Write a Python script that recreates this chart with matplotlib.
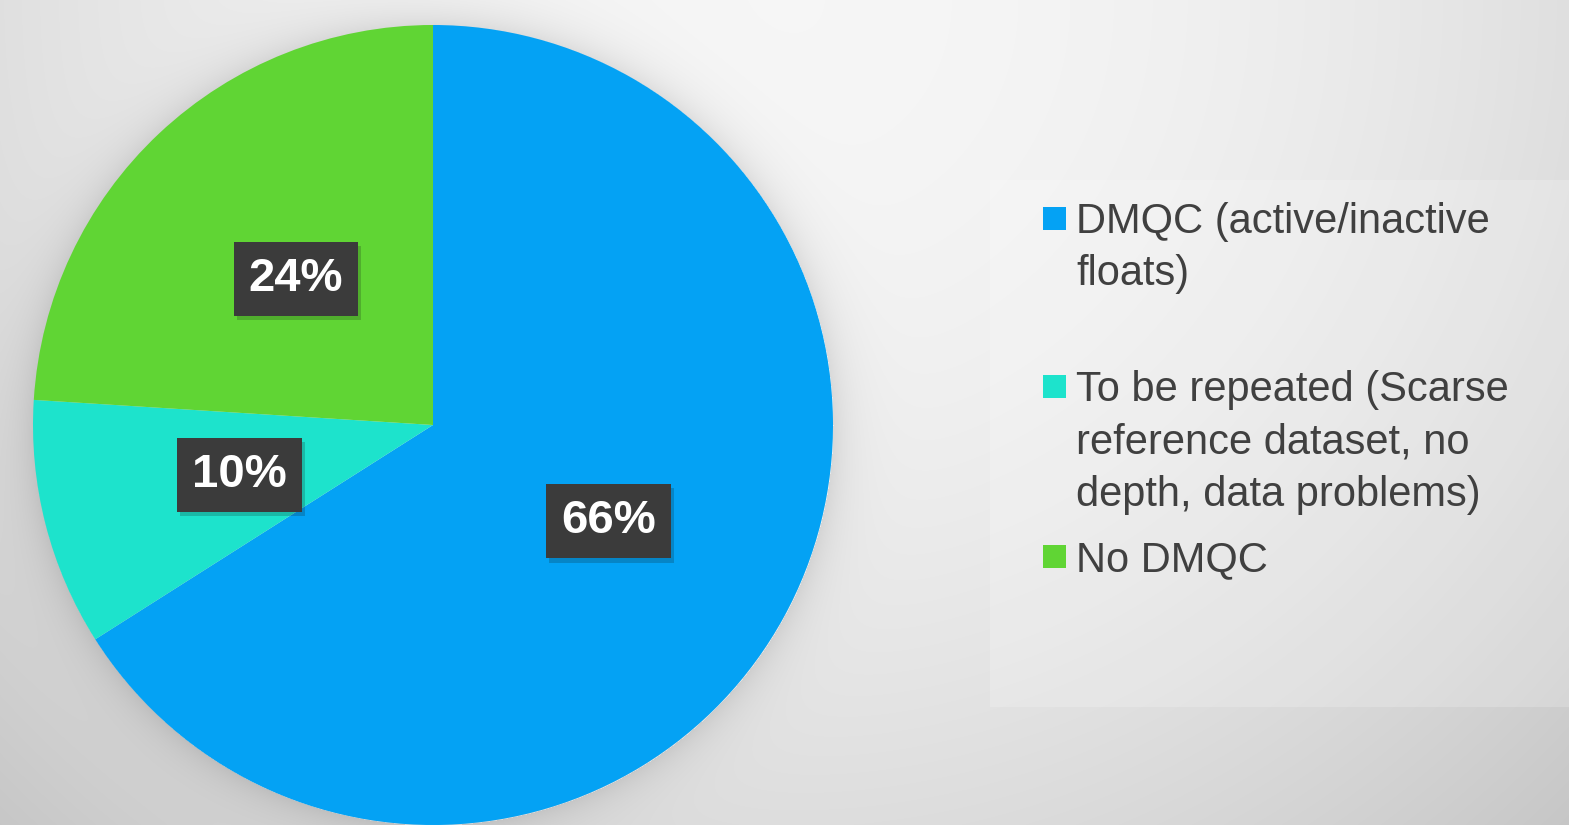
import matplotlib.pyplot as plt
import matplotlib.patheffects as pe
import numpy as np

# chart data
categories = ["DMQC (active/inactive\nfloats)",
              "To be repeated (Scarse\nreference dataset, no\ndepth, data problems)",
              "No DMQC"]
shares = [66, 10, 24]
colors = ["#04a2f4", "#1de3cc", "#60d534"]

W, H = 1569, 825
plt.rcParams['font.family'] = ['Liberation Sans', 'DejaVu Sans']

fig = plt.figure(figsize=(W / 100, H / 100), dpi=100)
ax = fig.add_axes([0, 0, 1, 1])

# grey radial background with a soft shadow round the pie
xx, yy = np.meshgrid(np.arange(W), np.arange(H))
d = np.hypot(xx - 780, yy + 0)
bg = 0.965 - 0.19 * (d / 1150) ** 2
pie_d = np.hypot(xx - 433, yy - 425)
shadow = np.where(pie_d > 400, 0.09 * np.exp(-(pie_d - 400) / 20), 0)
bg = np.clip(bg - shadow, 0, 1)
ax.imshow(np.dstack([bg, bg, bg]), extent=(0, W, 0, H), origin='upper',
          interpolation='bilinear', zorder=0)

# legend panel
ax.add_patch(plt.Rectangle((990, H - 707), 600, 527, facecolor='white',
                           alpha=0.2, edgecolor='none', zorder=1))

wedges, texts, autotexts = ax.pie(
    shares, colors=colors, startangle=90, counterclock=False,
    center=(433, H - 425), radius=400, frame=True,
    autopct=lambda p: f"{p:.0f}%", pctdistance=0.5,
    wedgeprops=dict(edgecolor='none', zorder=2))

for t in autotexts:
    t.set_color('white')
    t.set_fontsize(34)
    t.set_fontweight('bold')
    t.set_zorder(5)
    t.set_bbox(dict(boxstyle='square,pad=0.32', facecolor='#3b3b3b',
                    edgecolor='none',
                    path_effects=[pe.withSimplePatchShadow(offset=(2, -3),
                                                           alpha=0.2)]))

# legend entries placed by hand (Excel spreads them unevenly)
entry_y = [218, 386, 556]
for lab, col, y in zip(categories, colors, entry_y):
    ax.add_patch(plt.Rectangle((1043, H - y - 11.5), 23, 23,
                               facecolor=col, edgecolor='none', zorder=3))
    ax.text(1076, H - y + 16, lab, fontsize=30, color='#404040',
            va='top', ha='left', linespacing=1.4, zorder=3)

ax.set_xlim(0, W)
ax.set_ylim(0, H)
ax.axis('off')

fig.savefig("out.png", dpi=100)
